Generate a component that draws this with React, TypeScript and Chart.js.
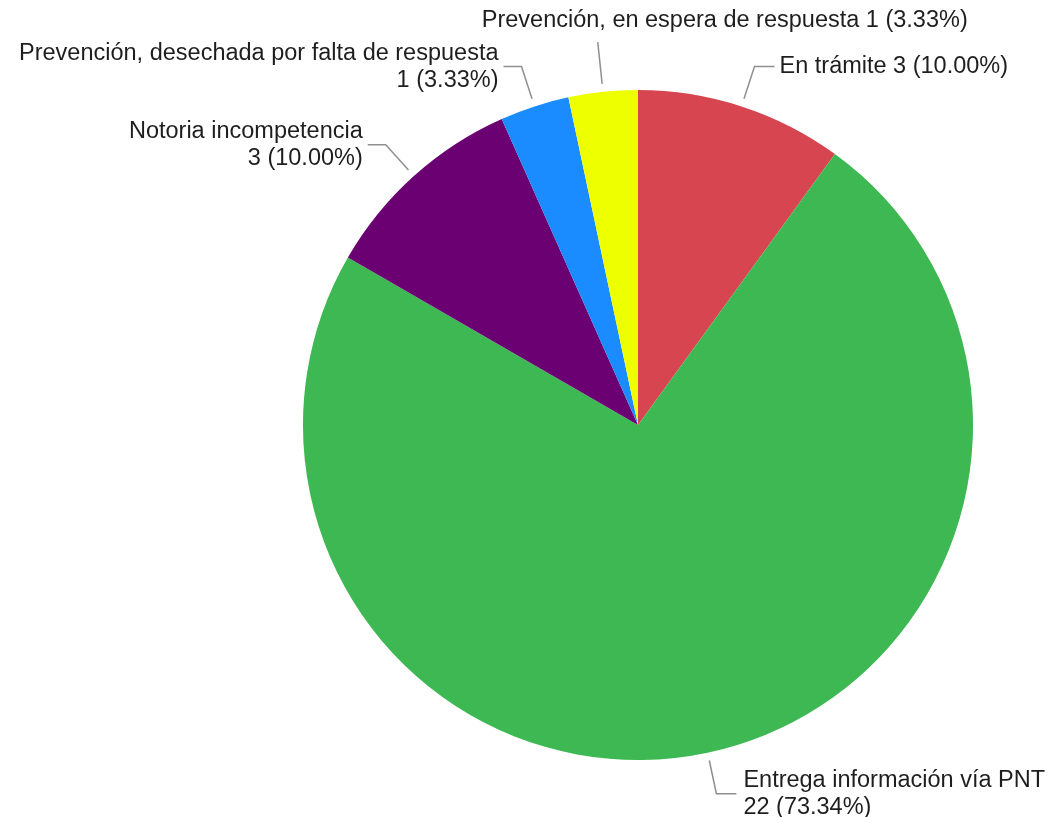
import React, { useEffect, useRef } from "react";
import { Chart, registerables } from "chart.js";

Chart.register(...registerables);

const categories = [
  "En trámite",
  "Entrega información vía PNT",
  "Notoria incompetencia",
  "Prevención, desechada por falta de respuesta",
  "Prevención, en espera de respuesta",
];
const values = [3, 22, 3, 1, 1];
const percentLabels = ["10.00%", "73.34%", "10.00%", "3.33%", "3.33%"];
const colors = ["#D64550", "#3DB853", "#6A0072", "#1A8CFF", "#EEFF00"];
// label layout style per slice: single line right, two lines right, two lines left, two lines left, single line top
const labelModes = ["right1", "right2", "left2", "left2", "top1"];

const FONT = '23.5px "Liberation Sans", Arial, sans-serif';

const labelPlugin = {
  id: "leaderLabels",
  afterDraw(chart: any) {
    const ctx = chart.ctx as CanvasRenderingContext2D;
    const meta = chart.getDatasetMeta(0);
    ctx.save();
    ctx.font = FONT;
    meta.data.forEach((arc: any, i: number) => {
      const p = arc.getProps(["x", "y", "startAngle", "endAngle", "outerRadius"], true);
      const mid = (p.startAngle + p.endAngle) / 2;
      const cos = Math.cos(mid);
      const sin = Math.sin(mid);
      const r1 = p.outerRadius + 8;
      const mode = labelModes[i];
      const r2 = p.outerRadius + (mode === "top1" ? 50 : 42);
      const ax = p.x + cos * r1;
      const ay = p.y + sin * r1;
      const bx = p.x + cos * r2;
      const by = p.y + sin * r2;
      ctx.strokeStyle = "#8f8f8f";
      ctx.lineWidth = 1.5;
      ctx.beginPath();
      ctx.moveTo(ax, ay);
      ctx.lineTo(bx, by);
      let cx = bx;
      if (mode !== "top1") {
        cx = mode.startsWith("right") ? bx + 20 : bx - 18;
        ctx.lineTo(cx, by);
      }
      ctx.stroke();

      ctx.fillStyle = "#1e1e1e";
      ctx.textBaseline = "middle";
      const valText = `${values[i]} (${percentLabels[i]})`;
      if (mode === "right1") {
        ctx.textAlign = "left";
        ctx.fillText(`${categories[i]} ${valText}`, cx + 5, by);
      } else if (mode === "top1") {
        ctx.textAlign = "left";
        ctx.fillText(`${categories[i]} ${valText}`, bx - 116, by - 22);
      } else if (mode === "right2") {
        ctx.textAlign = "left";
        ctx.fillText(categories[i], cx + 7, by - 13);
        ctx.fillText(valText, cx + 7, by + 14);
      } else {
        ctx.textAlign = "right";
        ctx.fillText(categories[i], cx - 5, by - 13);
        ctx.fillText(valText, cx - 5, by + 14);
      }
    });
    ctx.restore();
  },
};

export default function App() {
  const canvasRef = useRef<HTMLCanvasElement | null>(null);

  useEffect(() => {
    if (!canvasRef.current) return;
    const chart = new Chart(canvasRef.current, {
      type: "pie",
      data: {
        labels: categories,
        datasets: [
          {
            data: values,
            backgroundColor: colors,
            borderWidth: 0,
          },
        ],
      },
      options: {
        animation: false,
        responsive: false,
        layout: { padding: { left: 303, right: 81, top: 90, bottom: 57 } },
        plugins: {
          legend: { display: false },
          tooltip: { enabled: false },
        },
      },
      plugins: [labelPlugin],
    });
    return () => chart.destroy();
  }, []);

  return (
    <div style={{ position: "fixed", left: 0, top: 0, width: 1054, height: 817, background: "#fff" }}>
      <canvas ref={canvasRef} width={1054} height={817} style={{ width: 1054, height: 817 }} />
    </div>
  );
}
